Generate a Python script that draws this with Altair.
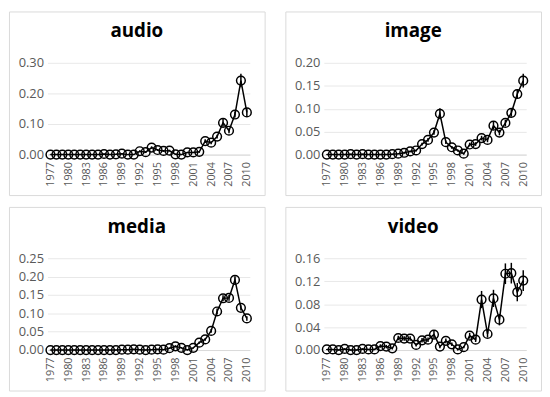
import altair as alt
import pandas as pd

years = [1977, 1978, 1979, 1980, 1981, 1982, 1983, 1984, 1985, 1986, 1987, 1988,
         1989, 1990, 1991, 1992, 1993, 1994, 1995, 1996, 1997, 1998, 1999, 2000,
         2001, 2002, 2003, 2004, 2005, 2006, 2007, 2008, 2009, 2010]
year_ticks = [1977, 1980, 1983, 1986, 1989, 1992, 1995, 1998, 2001, 2004, 2007, 2010]

audio = [0, 0, 0, 0, 0, 0, 0, 0, 0, 0.002, 0, 0.001, 0.003, 0, 0, 0.011, 0.008, 0.023,
         0.015, 0.012, 0.013, 0.001, 0, 0.007, 0.007, 0.009, 0.044, 0.039, 0.059, 0.104,
         0.078, 0.131, 0.242, 0.138]
audio_err = [0.001, 0.001, 0.001, 0.001, 0.001, 0.001, 0.001, 0.001, 0.001, 0.002, 0.001, 0.002,
             0.002, 0.001, 0.001, 0.003, 0.003, 0.004, 0.003, 0.003, 0.003, 0.002, 0.001, 0.002,
             0.002, 0.003, 0.006, 0.005, 0.006, 0.012, 0.008, 0.010, 0.022, 0.013]

image = [0, 0, 0, 0, 0.001, 0, 0.001, 0, 0, 0, 0, 0.001, 0.002, 0.004, 0.007, 0.009, 0.023,
         0.032, 0.048, 0.089, 0.027, 0.016, 0.009, 0.002, 0.022, 0.023, 0.036, 0.032, 0.063,
         0.048, 0.069, 0.091, 0.132, 0.161]
image_err = [0.001, 0.001, 0.001, 0.001, 0.001, 0.001, 0.001, 0.001, 0.001, 0.001, 0.001, 0.001,
             0.001, 0.002, 0.002, 0.002, 0.003, 0.004, 0.005, 0.012, 0.004, 0.003, 0.002, 0.002,
             0.004, 0.004, 0.005, 0.005, 0.008, 0.006, 0.007, 0.008, 0.010, 0.015]

media = [0, 0, 0, 0, 0, 0, 0, 0, 0, 0, 0, 0, 0.001, 0.001, 0.002, 0.001, 0, 0.001, 0.002,
         0.001, 0.005, 0.010, 0.006, 0, 0.006, 0.020, 0.029, 0.052, 0.105, 0.141, 0.142,
         0.191, 0.115, 0.086]
media_err = [0.001, 0.001, 0.001, 0.001, 0.001, 0.001, 0.001, 0.001, 0.001, 0.001, 0.001, 0.001,
             0.001, 0.001, 0.001, 0.001, 0.001, 0.001, 0.001, 0.001, 0.002, 0.003, 0.002, 0.001,
             0.002, 0.003, 0.004, 0.005, 0.008, 0.008, 0.008, 0.010, 0.007, 0.006]

video = [0.001, 0.001, 0, 0.002, 0, 0, 0.002, 0.001, 0.001, 0.007, 0.006, 0.003, 0.021,
         0.020, 0.020, 0.009, 0.017, 0.018, 0.027, 0.006, 0.016, 0.010, 0.001, 0.005, 0.025,
         0.018, 0.088, 0.028, 0.090, 0.053, 0.133, 0.134, 0.101, 0.121]
video_err = [0.001, 0.001, 0.001, 0.001, 0.001, 0.001, 0.001, 0.001, 0.001, 0.003, 0.003, 0.002,
             0.004, 0.004, 0.004, 0.003, 0.004, 0.004, 0.006, 0.003, 0.004, 0.003, 0.002, 0.002,
             0.005, 0.004, 0.015, 0.006, 0.015, 0.010, 0.018, 0.018, 0.016, 0.018]

panels = [
    ("audio", audio, audio_err, [0.0, 0.10, 0.20, 0.30]),
    ("image", image, image_err, [0.0, 0.05, 0.10, 0.15, 0.20]),
    ("media", media, media_err, [0.0, 0.05, 0.10, 0.15, 0.20, 0.25]),
    ("video", video, video_err, [0.0, 0.04, 0.08, 0.12, 0.16]),
]

W, H = 259, 186
X0, X1 = 39, 244
YB, YT = 145, 52
FONT = "Open Sans"
LABEL = "#595959"


def make_panel(name, vals, errs, ticks):
    df = pd.DataFrame({
        "year": years,
        "value": vals,
        "lo": [v - e for v, e in zip(vals, errs)],
        "hi": [v + e for v, e in zip(vals, errs)],
    })
    xenc = alt.X("year:O",
                 scale=alt.Scale(type="point", padding=0.5, range=[X0, X1]),
                 axis=alt.Axis(values=year_ticks, labelAngle=270, title=None,
                               ticks=False, tickSize=0, grid=False,
                               domainColor="#d9d9d9", domainWidth=1,
                               labelColor=LABEL, labelFont=FONT, labelFontSize=11,
                               labelPadding=7, offset=-(H - YB)))
    yscale = alt.Scale(domain=[ticks[0], ticks[-1]], nice=False, zero=False, range=[YB, YT])
    yaxis = alt.Axis(values=ticks, format=".2f", title=None, ticks=False,
                     domain=False, grid=True, gridColor="#e8e8e8",
                     labelColor=LABEL, labelFont=FONT, labelFontSize=13,
                     labelPadding=4, offset=-X0)
    yenc = alt.Y("value:Q", scale=yscale, axis=yaxis)
    base = alt.Chart(df)
    line = base.mark_line(color="black", strokeWidth=1.5).encode(x=xenc, y=yenc)
    err = base.mark_rule(color="black", strokeWidth=1.5).encode(
        x=xenc, y=alt.Y("lo:Q", scale=yscale, axis=yaxis), y2="hi:Q")
    pts = base.mark_point(shape="circle", filled=False, size=78, color="black",
                          strokeWidth=1.5, opacity=1).encode(x=xenc, y=yenc)
    return alt.layer(line, err, pts).properties(
        width=W, height=H,
        title=alt.TitleParams(name, font=FONT, fontSize=19, fontWeight="bold",
                              color="black", anchor="middle", frame="group",
                              offset=-30),
    )


charts = [make_panel(*p) for p in panels]
chart = alt.vconcat(
    alt.hconcat(charts[0], charts[1], spacing=19),
    alt.hconcat(charts[2], charts[3], spacing=19),
    spacing=10,
).properties(padding=0).configure_view(stroke="#d9d9d9", strokeWidth=1)

chart.save("out.html", embed_options={"renderer": "svg", "actions": False})
